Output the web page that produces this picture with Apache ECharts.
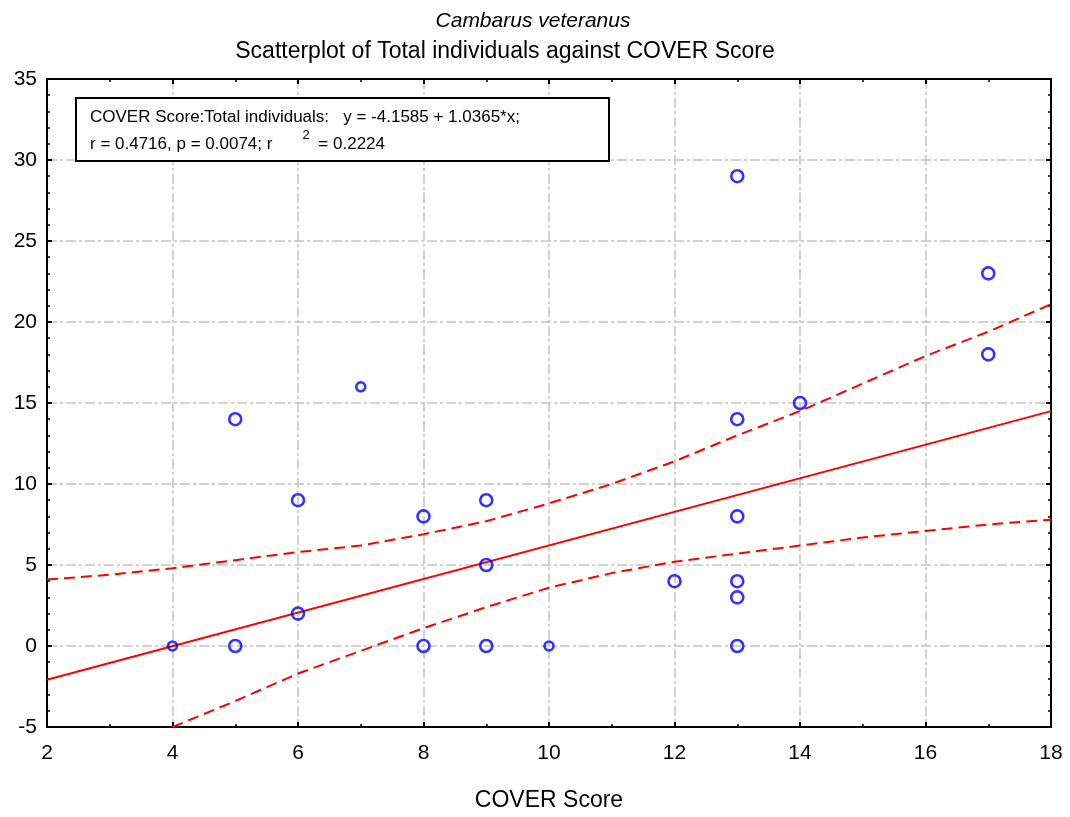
<!DOCTYPE html>
<html>
<head>
<meta charset="utf-8">
<script src="https://cdn.jsdelivr.net/npm/echarts@6/dist/echarts.min.js"></script>
<style>
  html, body { margin: 0; padding: 0; background: #fff; }
  #chart { width: 1070px; height: 817px; }
</style>
</head>
<body>
<div id="chart"></div>
<script>
// Observations: COVER Score (x) vs Total individuals (y)
const coverScore = [4, 5, 5, 6, 6, 7, 8, 8, 9, 9, 9, 10, 12, 13, 13, 13, 13, 13, 13, 14, 17, 17];
const totalIndividuals = [0, 0, 14, 9, 2, 16, 8, 0, 9, 5, 0, 0, 4, 29, 14, 8, 4, 3, 0, 15, 23, 18];

// Fitted line: y = -4.1585 + 1.0365*x
const intercept = -4.1585;
const slope = 1.0365;
const fitX = [2, 18];

// 95% confidence band, read at each COVER Score
const bandX = [2, 3, 4, 5, 6, 7, 8, 9, 10, 11, 12, 13, 14, 15, 16, 17, 18];
const bandUpper = [4.1, 4.4, 4.8, 5.3, 5.8, 6.2, 6.9, 7.7, 8.8, 10.0, 11.4, 13.0, 14.5, 16.2, 17.9, 19.4, 21.1];
const bandLowerX = [4, 5, 6, 7, 8, 9, 10, 11, 12, 13, 14, 15, 16, 17, 18];
const bandLower = [-5.0, -3.4, -1.7, -0.3, 1.1, 2.4, 3.6, 4.5, 5.2, 5.7, 6.2, 6.7, 7.1, 7.5, 7.8];

const xTicks = { min: 2, max: 18, interval: 2 };
const yTicks = { min: -5, max: 35, interval: 5 };

const font = 'Liberation Sans, Arial, sans-serif';
const gridLine = { show: true, lineStyle: { color: '#c4c4c4', width: 1.5, type: [10, 3, 3, 3] } };

const points = coverScore.map((x, i) => [x, totalIndividuals[i]]);
const fitLine = fitX.map(x => [x, intercept + slope * x]);
const upper = bandX.map((x, i) => [x, bandUpper[i]]);
const lower = bandLowerX.map((x, i) => [x, bandLower[i]]);

const axisBase = {
  type: 'value',
  axisLine: { show: true, onZero: false, lineStyle: { color: '#000', width: 2 } },
  axisTick: { show: true, inside: true, length: 5, lineStyle: { color: '#000', width: 2 } },
  minorTick: { show: true, length: 3, lineStyle: { color: '#000', width: 1.5 } },
};

const chart = echarts.init(document.getElementById('chart'), null, { renderer: 'canvas' });
chart.setOption({
  animation: false,
  backgroundColor: '#fff',
  title: [
    { text: 'Cambarus veteranus', left: 528, top: 6, textAlign: 'center',
      textStyle: { fontFamily: font, fontSize: 21, fontWeight: 'normal', fontStyle: 'italic', color: '#000' } },
    { text: 'Scatterplot of Total individuals against COVER Score', left: 500, top: 35, textAlign: 'center',
      textStyle: { fontFamily: font, fontSize: 23, fontWeight: 'normal', color: '#000' } }
  ],
  grid: { left: 47, right: 19, top: 79, bottom: 85, containLabel: false },
  xAxis: [
    Object.assign({}, axisBase, {
      position: 'bottom', min: xTicks.min, max: xTicks.max, interval: xTicks.interval,
      minorTick: Object.assign({}, axisBase.minorTick, { splitNumber: 2 }),
      axisLabel: { fontFamily: font, fontSize: 21, color: '#000', margin: 16 },
      splitLine: gridLine,
      name: 'COVER Score', nameLocation: 'middle', nameGap: 62,
      nameTextStyle: { fontFamily: font, fontSize: 23, color: '#000' }
    }),
    Object.assign({}, axisBase, {
      position: 'top', min: xTicks.min, max: xTicks.max, interval: xTicks.interval,
      minorTick: Object.assign({}, axisBase.minorTick, { splitNumber: 2 }),
      axisLabel: { show: false }, splitLine: { show: false }
    })
  ],
  yAxis: [
    Object.assign({}, axisBase, {
      position: 'left', min: yTicks.min, max: yTicks.max, interval: yTicks.interval,
      minorTick: Object.assign({}, axisBase.minorTick, { splitNumber: 5 }),
      axisLabel: { fontFamily: font, fontSize: 21, color: '#000', margin: 10 },
      splitLine: gridLine
    }),
    Object.assign({}, axisBase, {
      position: 'right', min: yTicks.min, max: yTicks.max, interval: yTicks.interval,
      minorTick: Object.assign({}, axisBase.minorTick, { splitNumber: 5 }),
      axisLabel: { show: false }, splitLine: { show: false }
    })
  ],
  series: [
    { type: 'line', data: fitLine, showSymbol: false, symbol: 'none', clip: true,
      lineStyle: { color: '#ff0000', width: 2 }, z: 3 },
    { type: 'line', data: upper, showSymbol: false, symbol: 'none', clip: true,
      lineStyle: { color: '#ff0000', width: 2, type: [11, 6] }, z: 3 },
    { type: 'line', data: lower, showSymbol: false, symbol: 'none', clip: true,
      lineStyle: { color: '#ff0000', width: 2, type: [11, 6] }, z: 3 },
    { type: 'scatter', data: points, symbol: 'circle', clip: true,
      symbolSize: (v) => (v[0] === 7 || v[0] === 4 || v[0] === 10 ? 9 : 12),
      itemStyle: { color: 'rgba(255,255,255,0)', borderColor: '#0000ff', borderWidth: 2.6 }, z: 5 }
  ],
  graphic: [
    {
      type: 'group', left: 75, top: 97, z: 100,
      children: [
        { type: 'rect', z: 100, shape: { x: 0, y: 0, width: 533, height: 63 },
          style: { fill: '#fff', stroke: '#000', lineWidth: 2 } },
        { type: 'text', z: 101, left: 14, top: 11,
          style: { text: 'COVER Score:Total individuals:   y = -4.1585 + 1.0365*x;',
                   font: '17px ' + font, fill: '#000' } },
        { type: 'text', z: 101, left: 14, top: 31,
          style: { text: '{n|r = 0.4716, p = 0.0074; r}{s|2}{n| = 0.2224}',
                   rich: {
                     n: { fontFamily: font, fontSize: 17, color: '#000', verticalAlign: 'bottom', lineHeight: 24 },
                     s: { fontFamily: font, fontSize: 13, color: '#000', padding: [0, 4, 10, 30], verticalAlign: 'top', lineHeight: 24 }
                   } } }
      ]
    }
  ]
});
</script>
</body>
</html>
